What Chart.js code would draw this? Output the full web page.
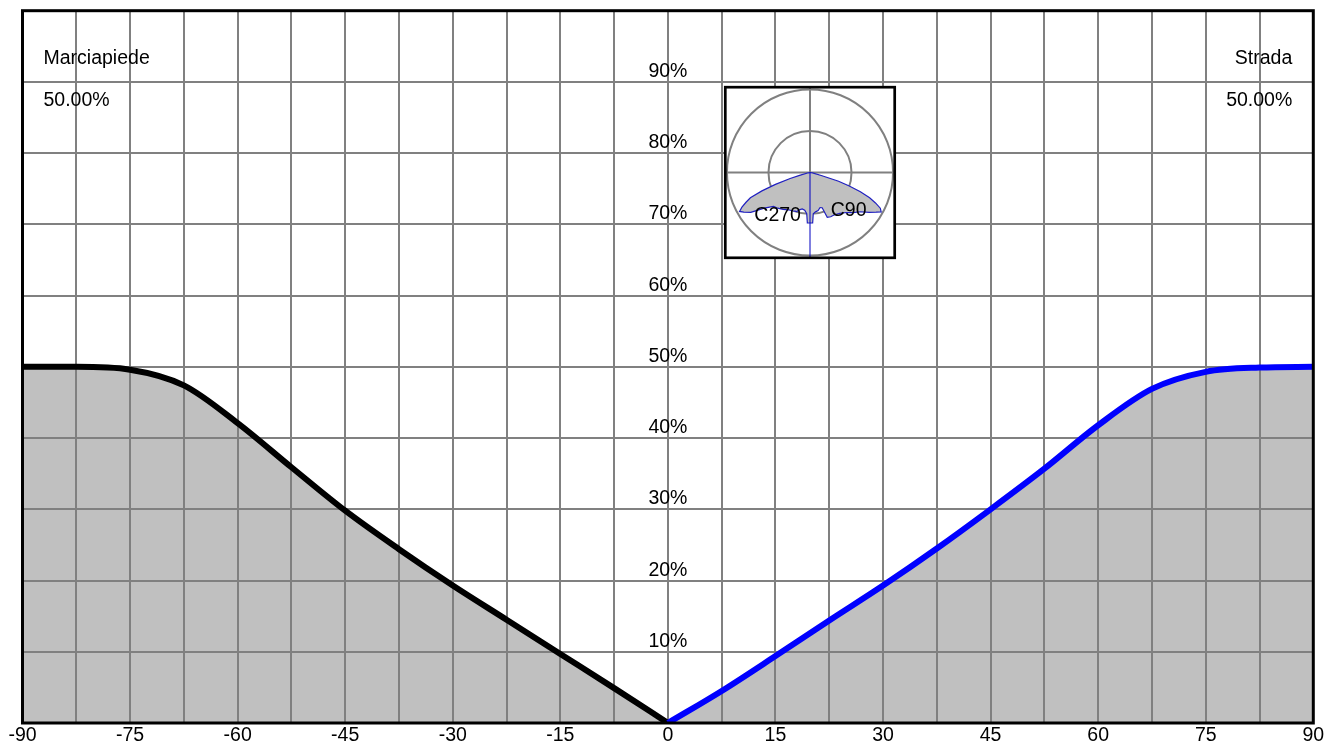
<!DOCTYPE html>
<html>
<head>
<meta charset="utf-8">
<script src="https://cdn.jsdelivr.net/npm/chart.js@4/dist/chart.umd.min.js"></script>
<style>
    body { margin: 0; background: #fff; }
    #wrap { position: relative; width: 1338px; height: 745px; }
    #inset { position: absolute; left: 720px; top: 82px; }
</style>
</head>
<body>
<div id="wrap">
    <canvas id="mainChart" width="1338" height="745"></canvas>
    <canvas id="inset" width="180" height="181"></canvas>
</div>
<script>
// Marciapiede side (black) and Strada side (blue), angle in degrees vs percent
const leftAngles = [-90, -82.5, -75, -67.5, -60, -52.5, -45, -37.5, -30, -22.5, -15, -7.5, 0];
const leftValues = [50, 50, 49.6, 47.4, 42.1, 35.9, 29.8, 24.4, 19.3, 14.5, 9.7, 4.9, 0];
const rightAngles = [0, 7.5, 15, 22.5, 30, 37.5, 45, 52.5, 60, 67.5, 75, 82.5, 90];
const rightValues = [0, 4.5, 9.4, 14.4, 19.3, 24.5, 30.0, 35.7, 41.8, 46.9, 49.3, 49.9, 50];

const xTickLabels = [-90, -75, -60, -45, -30, -15, 0, 15, 30, 45, 60, 75, 90];
const yTickLabels = [10, 20, 30, 40, 50, 60, 70, 80, 90];
const sideNames = ['Marciapiede', 'Strada'];
const sideShares = ['50.00%', '50.00%'];

// polar inset: gamma angle (from nadir) and relative intensity in C90 / C270 planes
const polarGamma = [0, 3, 4.5, 8, 12, 16, 19, 21, 25, 30, 36, 42, 47, 52, 56, 59, 61, 63, 65, 67, 69, 71, 73, 75, 80, 90];
const c90Values  = [0.61, 0.61, 0.50, 0.48, 0.47, 0.44, 0.45, 0.58, 0.59, 0.59, 0.61, 0.65, 0.71, 0.77, 0.86, 0.93, 0.98, 0.95, 0.87, 0.78, 0.65, 0.50, 0.36, 0.15, 0.03, 0];
const c270Values = [0.61, 0.61, 0.50, 0.46, 0.45, 0.47, 0.50, 0.50, 0.51, 0.52, 0.55, 0.58, 0.60, 0.70, 0.86, 0.93, 0.97, 0.92, 0.85, 0.78, 0.62, 0.44, 0.25, 0.12, 0.02, 0];
const polarRings = [0.5, 1.0];
const planeNames = ['C270', 'C90'];

const FONT = '19.5px "Liberation Sans", Arial, sans-serif';
const GRID = '#808080';
const FILL = '#c0c0c0';

Chart.defaults.font.family = '"Liberation Sans", Arial, sans-serif';
Chart.defaults.font.size = 19.5;
Chart.defaults.color = '#000';

function toPoints(xs, ys) {
    return xs.map((v, i) => ({ x: v, y: ys[i] }));
}

const overlayPlugin = {
    id: 'overlay',
    afterDatasetsDraw(chart) {
        const { ctx, chartArea: a, scales: { x, y } } = chart;
        ctx.save();
        ctx.fillStyle = '#000';
        ctx.font = FONT;
        ctx.textBaseline = 'alphabetic';
        ctx.textAlign = 'center';
        yTickLabels.forEach(v => {
            ctx.fillText(v + '%', x.getPixelForValue(0), y.getPixelForValue(v) - 5);
        });
        ctx.textAlign = 'left';
        ctx.fillText(sideNames[0], a.left + 21, a.top + 53.3);
        ctx.fillText(sideShares[0], a.left + 21, a.top + 95.3);
        ctx.textAlign = 'right';
        ctx.fillText(sideNames[1], a.right - 21, a.top + 53.3);
        ctx.fillText(sideShares[1], a.right - 21, a.top + 95.3);
        // frame
        ctx.strokeStyle = '#000';
        ctx.lineWidth = 3;
        ctx.strokeRect(a.left, a.top, a.right - a.left, a.bottom - a.top);
        ctx.restore();
    }
};

new Chart(document.getElementById('mainChart'), {
    type: 'line',
    data: {
        datasets: [{
            data: toPoints(rightAngles, rightValues),
            borderColor: '#0000ff',
            backgroundColor: FILL,
            borderWidth: 6,
            borderJoinStyle: 'round',
            fill: 'origin',
            pointRadius: 0,
            cubicInterpolationMode: 'monotone'
        }, {
            data: toPoints(leftAngles, leftValues),
            borderColor: '#000000',
            backgroundColor: FILL,
            borderWidth: 6,
            borderJoinStyle: 'round',
            fill: 'origin',
            pointRadius: 0,
            cubicInterpolationMode: 'monotone'
        }]
    },
    options: {
        responsive: false,
        animation: false,
        layout: { padding: { left: 22.5, top: 10.7, right: 24.7, bottom: 0 } },
        plugins: {
            legend: { display: false },
            tooltip: { enabled: false },
            filler: { drawTime: 'beforeDraw' }
        },
        scales: {
            x: {
                type: 'linear',
                min: -90,
                max: 90,
                afterFit: s => { s.height = 22; },
                grid: { color: GRID, lineWidth: 2, drawTicks: false },
                border: { display: false },
                ticks: {
                    stepSize: 7.5,
                    autoSkip: false,
                    maxRotation: 0,
                    padding: 1,
                    callback: v => xTickLabels.includes(v) ? String(v) : ''
                }
            },
            y: {
                min: 0,
                max: 100,
                afterFit: s => { s.width = 0; },
                grid: { color: GRID, lineWidth: 2, drawTicks: false },
                border: { display: false },
                ticks: { stepSize: 10, display: false }
            }
        }
    },
    plugins: [overlayPlugin]
});

// polar inset
function polarShape() {
    const pts = [];
    for (let i = polarGamma.length - 1; i >= 0; i--) {
        const g = polarGamma[i] * Math.PI / 180;
        pts.push({ x: -c270Values[i] * Math.sin(g), y: -c270Values[i] * Math.cos(g) });
    }
    for (let i = 0; i < polarGamma.length; i++) {
        const g = polarGamma[i] * Math.PI / 180;
        pts.push({ x: c90Values[i] * Math.sin(g), y: -c90Values[i] * Math.cos(g) });
    }
    return pts;
}

const insetPlugin = {
    id: 'insetFrame',
    beforeDatasetsDraw(chart) {
        const { ctx, chartArea: a, scales: { x, y } } = chart;
        const cx = x.getPixelForValue(0), cy = y.getPixelForValue(0);
        ctx.save();
        ctx.fillStyle = '#fff';
        ctx.fillRect(a.left, a.top, a.right - a.left, a.bottom - a.top);
        ctx.strokeStyle = GRID;
        ctx.lineWidth = 2;
        polarRings.forEach(r => {
            ctx.beginPath();
            ctx.arc(cx, cy, x.getPixelForValue(r) - cx, 0, Math.PI * 2);
            ctx.stroke();
        });
        ctx.beginPath();
        ctx.moveTo(a.left, cy);
        ctx.lineTo(a.right, cy);
        ctx.moveTo(cx, a.top);
        ctx.lineTo(cx, cy);
        ctx.stroke();
        ctx.restore();
    },
    afterDatasetsDraw(chart) {
        const { ctx, chartArea: a, scales: { x, y } } = chart;
        const cx = x.getPixelForValue(0), cy = y.getPixelForValue(0);
        ctx.save();
        ctx.strokeStyle = '#0000c0';
        ctx.lineWidth = 1;
        ctx.beginPath();
        ctx.moveTo(cx, cy);
        ctx.lineTo(cx, a.bottom);
        ctx.stroke();
        ctx.fillStyle = '#000';
        ctx.font = FONT;
        ctx.textAlign = 'center';
        ctx.fillText(planeNames[0], x.getPixelForValue(-0.39), y.getPixelForValue(-0.58));
        ctx.fillText(planeNames[1], x.getPixelForValue(0.465), y.getPixelForValue(-0.52));
        ctx.strokeStyle = '#000';
        ctx.lineWidth = 2.7;
        ctx.strokeRect(a.left, a.top, a.right - a.left, a.bottom - a.top);
        ctx.restore();
    }
};

new Chart(document.getElementById('inset'), {
    type: 'scatter',
    data: {
        datasets: [{
            data: polarShape(),
            showLine: true,
            borderColor: '#2020c0',
            borderWidth: 1.2,
            backgroundColor: FILL,
            fill: 'shape',
            pointRadius: 0,
            tension: 0
        }]
    },
    options: {
        responsive: false,
        animation: false,
        layout: { padding: { left: 5.3, right: 5.3, top: 5.2, bottom: 5.2 } },
        plugins: { legend: { display: false }, tooltip: { enabled: false } },
        scales: {
            x: { type: 'linear', min: -1.02, max: 1.02, display: false },
            y: { type: 'linear', min: -1.03, max: 1.03, display: false }
        }
    },
    plugins: [insetPlugin]
});
</script>
</body>
</html>
